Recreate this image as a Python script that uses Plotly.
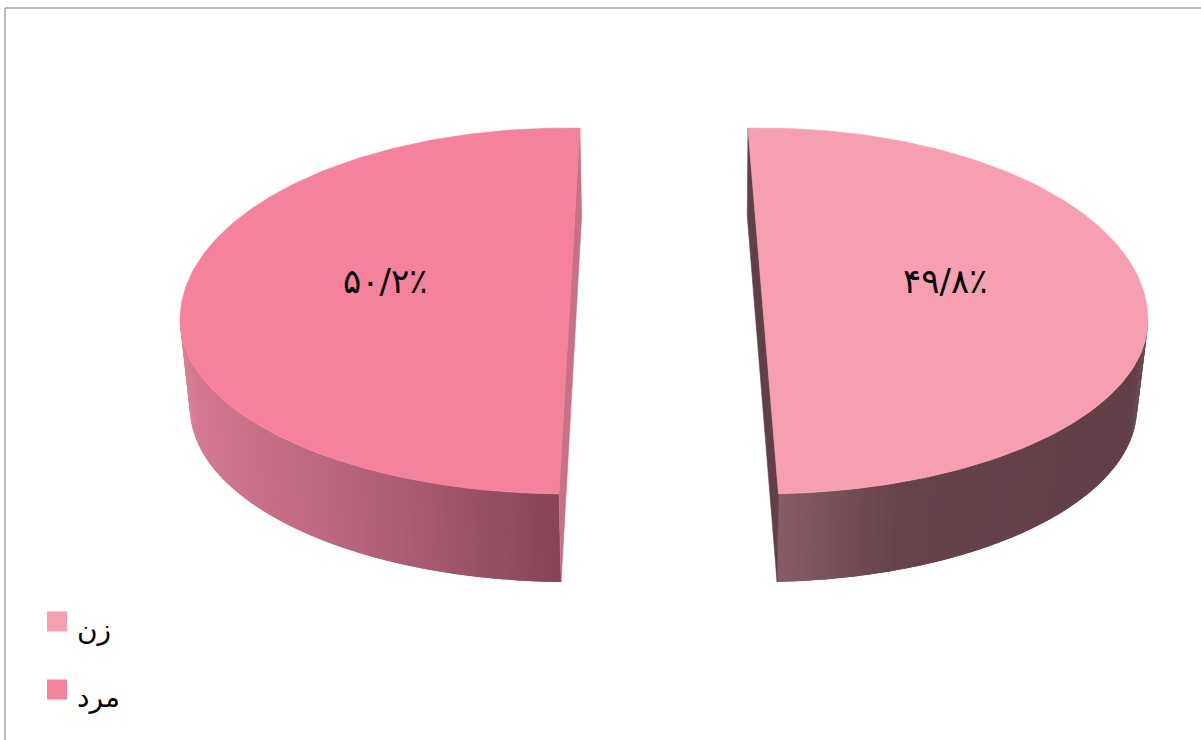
"""
Gender split drawn as an exploded 3D-looking pie. Plotly has no 3D pie,
so the wedges are built as filled scatter polygons from the shares below.
"""

import numpy as np
import plotly.graph_objects as go

labels = ['زن', 'مرد']
shares = [49.8, 50.2]
value_texts = ['۴۹/۸٪', '۵۰/۲٪']
top_colors = ['#f79fb2', '#f5829c']
cut_colors = ['#5f3f48', '#c96f86']
# side wall colour at the front edge and at the outer end of each wedge
side_stops = [
    [(778, (136, 92, 102)), (900, (102, 66, 75)), (1146, (98, 63, 72))],
    [(182, (214, 122, 146)), (375, (178, 96, 120)), (560, (134, 68, 86))],
]

# canvas is one pixel per axis unit, y pointing down
WIDTH = 1201
HEIGHT = 740
CENTER_X = [760.8, 567.0]
RADIUS_X = [387.2, 387.0]
START_ANGLE = [-1.9, 181.19]
FLOOR_SHIFT = [-1.0, 2.0]
FLOOR_SHRINK = [10.0, 8.0]
CENTER_Y = 320.0
RADIUS_BACK = 192.0
RADIUS_FRONT = 174.0
DEPTH = 88.0


def rim(i, angle_deg, floor=False):
    """Point on the top or floor ellipse, angle clockwise from the back."""
    t = np.radians(angle_deg)
    cx, rx = CENTER_X[i], RADIUS_X[i]
    if floor:
        cx, rx = cx + FLOOR_SHIFT[i], rx - FLOOR_SHRINK[i]
    x = cx + rx * np.sin(t)
    cos_t = np.cos(t)
    y = CENTER_Y - cos_t * np.where(cos_t > 0, RADIUS_BACK, RADIUS_FRONT)
    return x, y + (DEPTH if floor else 0)


def side_color(stops, x):
    xs = [s[0] for s in stops]
    rgb = [np.interp(x, xs, [s[1][i] for s in stops]) for i in range(3)]
    return 'rgb({:.0f},{:.0f},{:.0f})'.format(*rgb)


def polygon(x, y, color, outline=0.6):
    return go.Scatter(
        x=x, y=y, mode='lines', fill='toself', fillcolor=color,
        line=dict(color=color, width=outline), hoverinfo='skip', showlegend=False
    )


def quad(i, a0, a1, color, outline=0.6):
    ends = np.array([a0, a1])
    top_x, top_y = rim(i, ends)
    low_x, low_y = rim(i, ends, floor=True)
    return polygon(
        [top_x[0], top_x[1], low_x[1], low_x[0], top_x[0]],
        [top_y[0], top_y[1], low_y[1], low_y[0], top_y[0]],
        color, outline,
    )


fig = go.Figure()

for i, share in enumerate(shares):
    start = START_ANGLE[i]
    end = start + share * 3.6

    # outer wall, only the part facing the viewer; each strip runs on under
    # the next one so the gradient has no seams
    wall_from, wall_to = (90.0, end) if i == 0 else (start, 270.0)
    steps = np.linspace(wall_from, wall_to, 181)
    for k in range(len(steps) - 1):
        a0, a1 = steps[k], steps[min(k + 2, len(steps) - 1)]
        x_mid = rim(i, steps[k:k + 2])[0].mean()
        fig.add_trace(quad(i, a0, a1, side_color(side_stops[i], x_mid), outline=0))

    # cut face seen through the gap
    fig.add_trace(quad(i, start, end, cut_colors[i]))

    # top face
    arc = np.linspace(start, end, 181)
    arc_x, arc_y = rim(i, arc)
    fig.add_trace(polygon(list(arc_x) + [arc_x[0]], list(arc_y) + [arc_y[0]], top_colors[i]))

# value labels
for text, x in zip(value_texts, [945, 385.5]):
    fig.add_annotation(
        x=x, y=281, text=text, showarrow=False, xanchor='center', yanchor='middle',
        font=dict(family='DejaVu Sans', size=34, color='#000000')
    )

# legend swatches and names
for i, (label, y) in enumerate(zip(labels, [621.5, 689.5])):
    fig.add_trace(go.Scatter(
        x=[57], y=[y], mode='markers', hoverinfo='skip', showlegend=False,
        marker=dict(symbol='square', size=20, color=top_colors[i], line=dict(width=0))
    ))
    fig.add_annotation(
        x=75, y=y + 8, text=label, showarrow=False, xanchor='left', yanchor='middle',
        font=dict(family='DejaVu Sans', size=28, color='#000000')
    )

# outer frame, only top and left edges are inside the picture
fig.add_shape(type='line', x0=5, x1=5, y0=8, y1=HEIGHT, line=dict(color='#a6a6a6', width=1.5))
fig.add_shape(type='line', x0=5, x1=WIDTH, y0=8, y1=8, line=dict(color='#a6a6a6', width=1.5))

fig.update_layout(
    width=WIDTH,
    height=HEIGHT,
    margin=dict(l=0, r=0, t=0, b=0),
    paper_bgcolor='white',
    plot_bgcolor='white',
    showlegend=False,
    xaxis=dict(range=[0, WIDTH], visible=False, fixedrange=True),
    yaxis=dict(range=[HEIGHT, 0], visible=False, fixedrange=True),
)

fig.write_html(
    "out.html",
    config=dict(displayModeBar=False),
    post_script="document.body.style.margin='0';document.body.style.overflow='hidden';",
)
